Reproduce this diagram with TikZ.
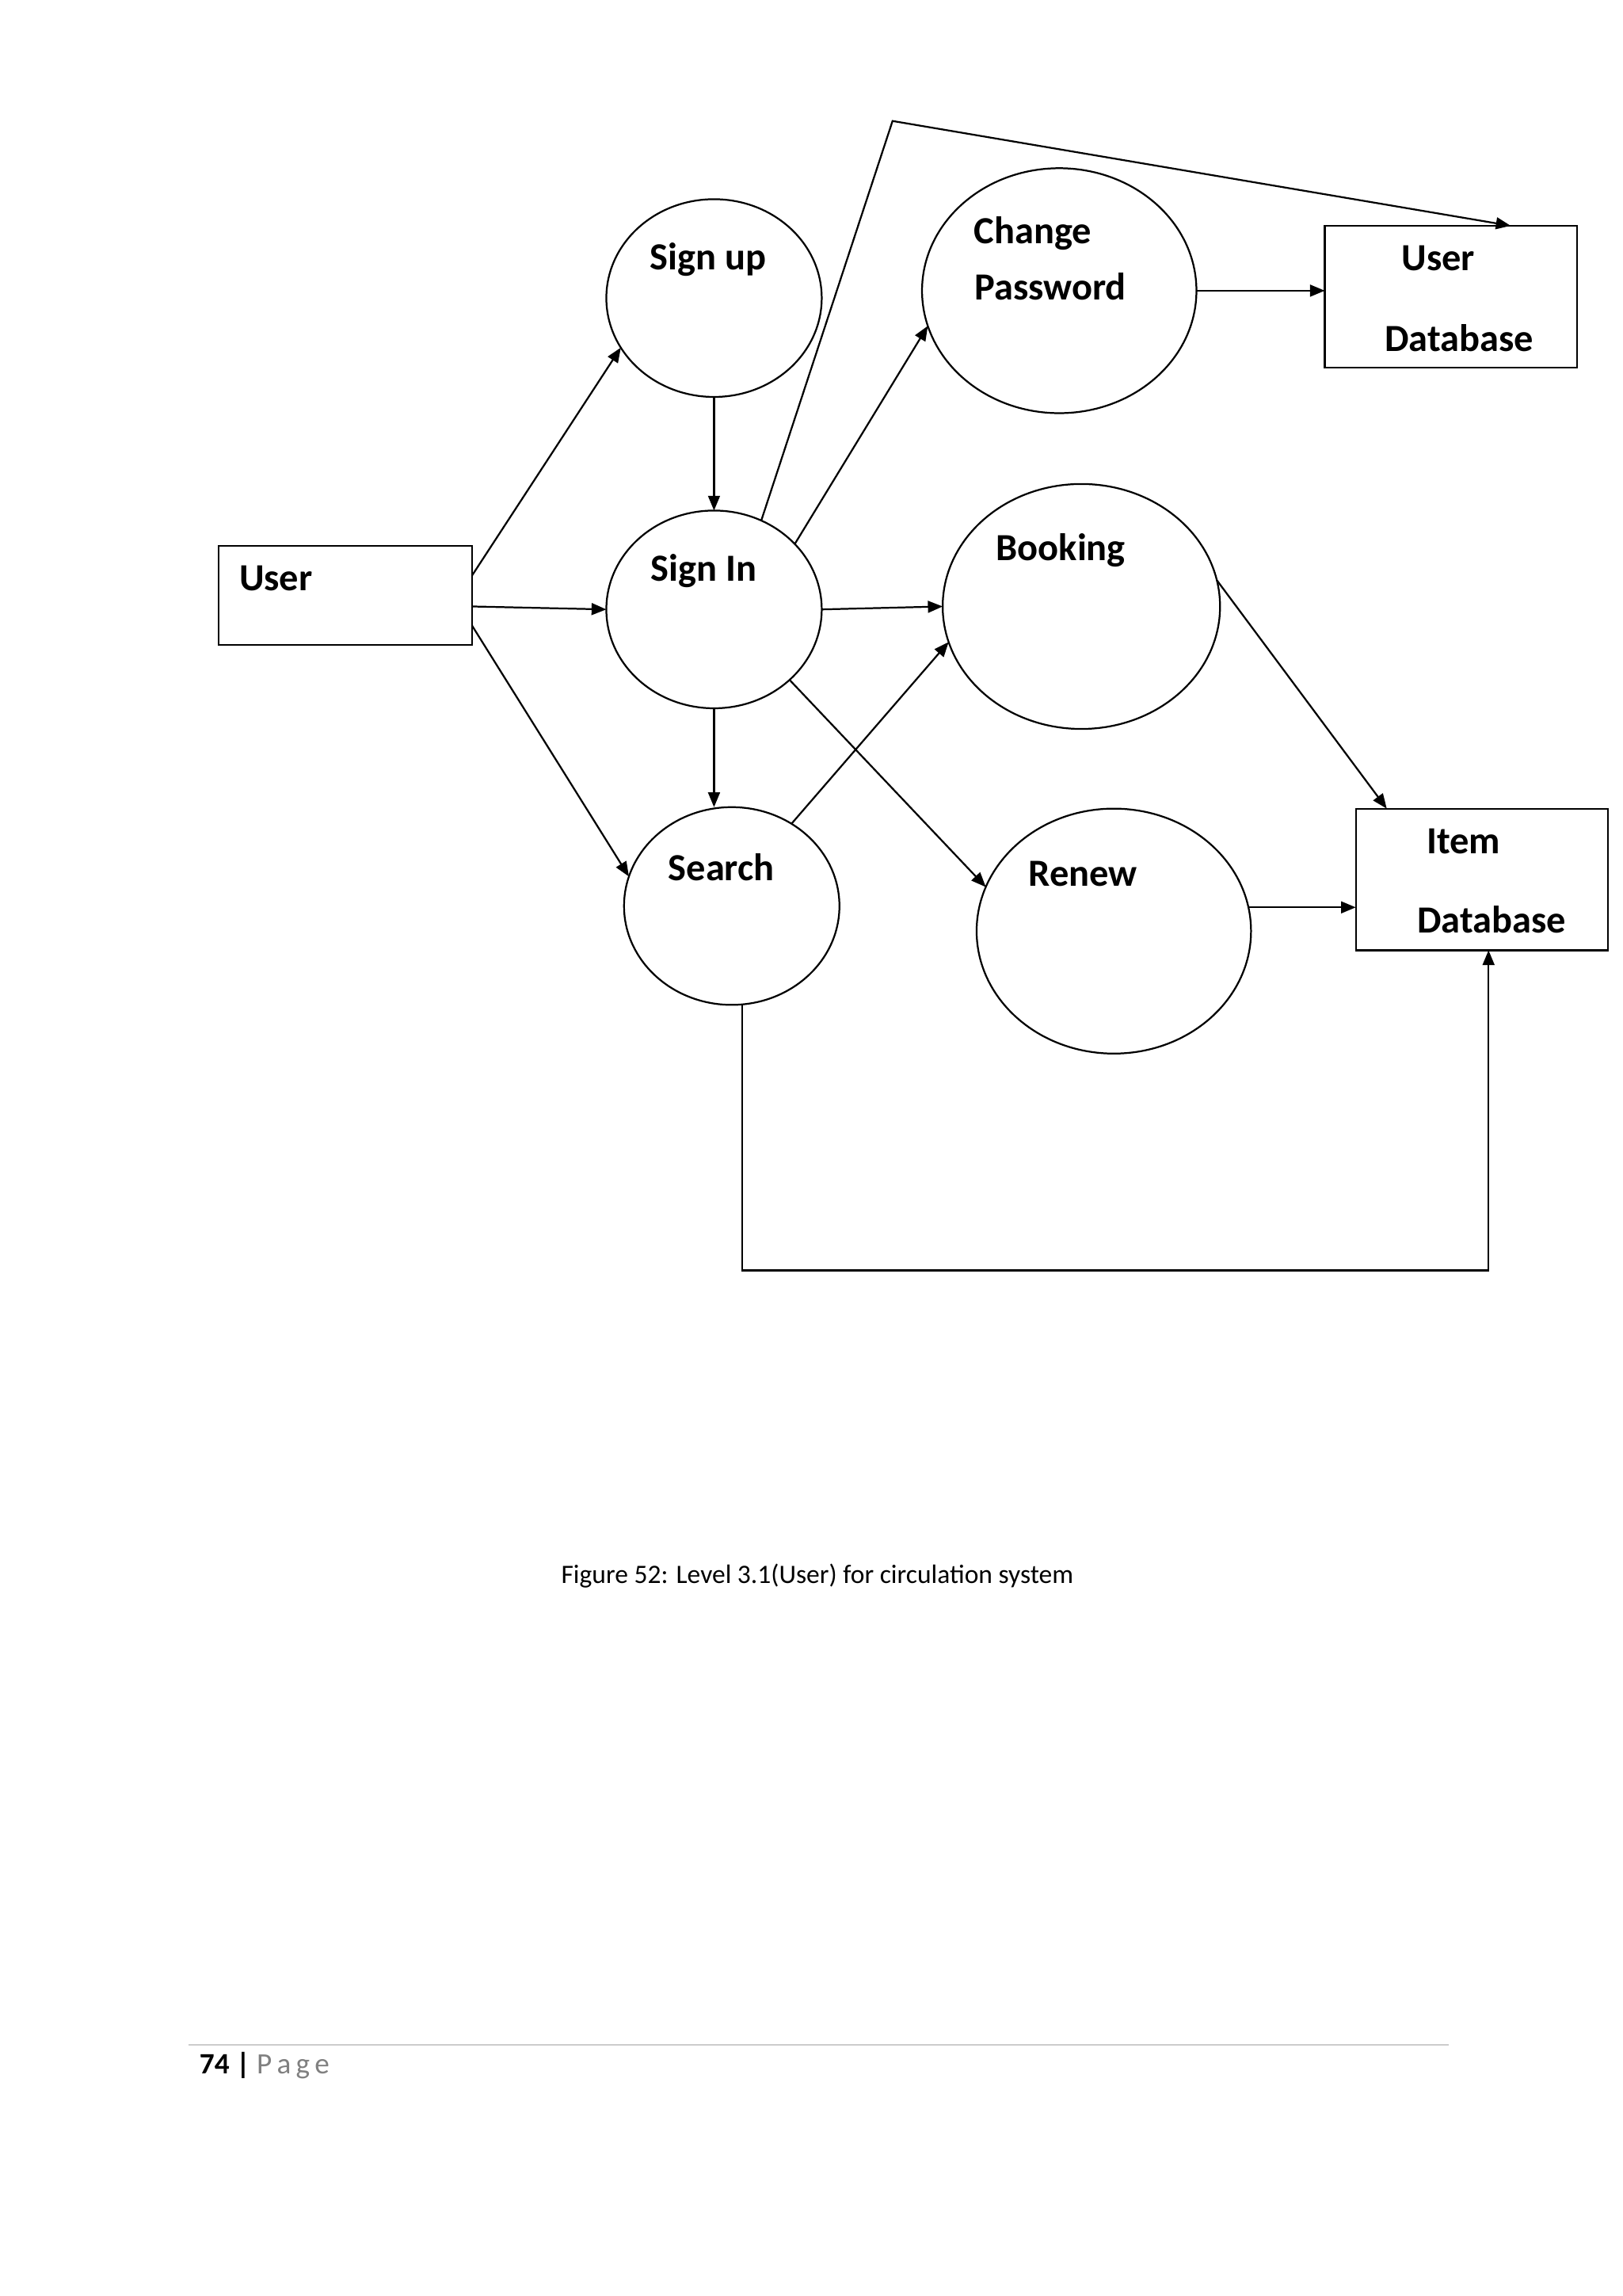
\documentclass[tikz,border=0pt]{standalone}
\usepackage{fontspec}
\setmainfont{Carlito}
\usetikzlibrary{arrows.meta,shapes.geometric}
\begin{document}
\begin{tikzpicture}[x=0.5pt,y=-0.5pt,line width=0.6pt,
  proc/.style={draw,ellipse,inner sep=0pt,outer sep=0pt},
  store/.style={draw,rectangle,inner sep=0pt,outer sep=0pt},
  lbl/.style={font=\bfseries\fontsize{13}{15}\selectfont},
  flow/.style={-{Triangle[length=5pt,width=4pt]}}]
\useasboundingbox (0,0) rectangle (1100,1556);
\node[store,minimum width=86pt,minimum height=33.5pt] (user) at (234,403.5) {};
\node[store,minimum width=85.5pt,minimum height=48pt] (udb) at (983.5,201) {};
\node[store,minimum width=85.5pt,minimum height=48pt] (idb) at (1004.5,596) {};
\node[proc,minimum width=73pt,minimum height=67pt] (signup) at (484,202) {};
\node[proc,minimum width=73pt,minimum height=67pt] (signin) at (484,413) {};
\node[proc,minimum width=73pt,minimum height=67pt] (search) at (496,614) {};
\node[proc,minimum width=93pt,minimum height=83pt] (chpw) at (718,197) {};
\node[proc,minimum width=94pt,minimum height=83pt] (book) at (733,411) {};
\node[proc,minimum width=93pt,minimum height=83pt] (renew) at (755,631) {};
\node[lbl] (t1) at (187,392) {User};
\node[lbl] (t2) at (480,176) {Sign up};
\node[lbl] (t3) at (477,387) {Sign In};
\node[lbl] (t4) at (489,588) {Search};
\node[lbl] (t5) at (700,158) {Change};
\node[lbl] (t6) at (712,194) {Password};
\node[lbl] (t7) at (719,373) {Booking};
\node[lbl] (t8) at (734,592) {Renew};
\node[lbl] (t9) at (975,175) {User};
\node[lbl] (t10) at (989,229) {Database};
\node[lbl] (t11) at (992,570) {Item};
\node[lbl] (t12) at (1011,623) {Database};
\draw[flow] ([yshift=6.75pt]user.east) -- (signup.208);
\draw[flow] ([yshift=-3.75pt]user.east) -- (signin.west);
\draw[flow] ([yshift=-10.25pt]user.east) -- (search.164);
\draw[flow] (signup.south) -- (signin.north);
\draw[flow] (signin.south) -- (signin.south |- search.north);
\draw[flow] (signin.39) -- (chpw.195);
\coordinate (top) at (605,82);
\draw[flow] (signin.62) -- (top) -- ([xshift=20.25pt]udb.north);
\draw[flow] (signin.east) -- (book.west);
\draw[flow] (signin.-43) -- (renew.161);
\draw[flow] (search.54) -- (book.195);
\draw[flow] (chpw.east) -- (chpw.east -| udb.west);
\draw[flow] (book.11) -- ([xshift=-32.25pt]idb.north);
\draw[flow] (renew.10) -- (renew.10 -| idb.west);
\coordinate (sb) at ([xshift=3.5pt]search.south);
\coordinate (bot) at (1009,861);
\draw[flow] (sb) -- (sb |- bot) -- (bot) -- (bot |- idb.south);
\node[font=\fontsize{9}{11}\selectfont] (cap) at (554,1068) {Figure 52: Level 3.1(User) for circulation system};
\draw[gray!40,line width=0.5pt] (128,1386) coordinate (fl) -- (982,1386) coordinate (fr);
\node[anchor=west,font=\fontsize{10}{12}\selectfont] (pg) at (128,1400) {\textbf{74 |} \textcolor{gray}{P\,a\,g\,e}};
\end{tikzpicture}
\end{document}
